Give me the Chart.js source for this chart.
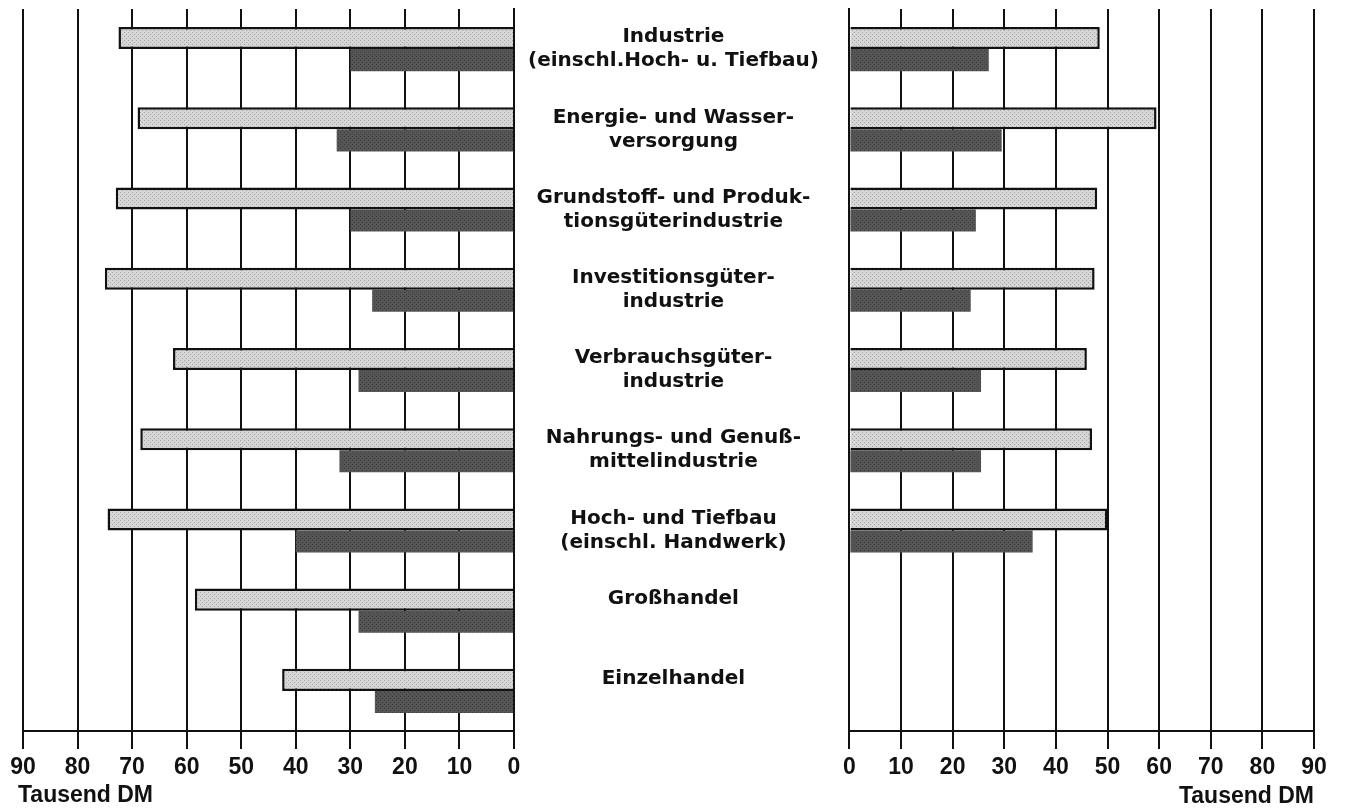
<!DOCTYPE html>
<html>
<head>
<meta charset="utf-8">
<script src="https://cdn.jsdelivr.net/npm/chart.js@4"></script>
<style>
  body { margin: 0; background: #fff; }
  canvas { position: absolute; top: 0; }
  #left { left: 0; }
  #right { left: 838px; }
</style>
</head>
<body>
<canvas id="left" width="838" height="810"></canvas>
<canvas id="right" width="529" height="810"></canvas>
<script>
const categories = [
  ['Industrie', '(einschl.Hoch- u. Tiefbau)'],
  ['Energie- und Wasser-', 'versorgung'],
  ['Grundstoff- und Produk-', 'tionsgüterindustrie'],
  ['Investitionsgüter-', 'industrie'],
  ['Verbrauchsgüter-', 'industrie'],
  ['Nahrungs- und Genuß-', 'mittelindustrie'],
  ['Hoch- und Tiefbau', '(einschl. Handwerk)'],
  ['Großhandel', ''],
  ['Einzelhandel', '']
]
const leftLight = [72.5, 69, 73, 75, 62.5, 68.5, 74.5, 58.5, 42.5]
const leftDark = [30, 32.5, 30, 26, 28.5, 32, 40, 28.5, 25.5]
const rightLight = [48.5, 59.5, 48, 47.5, 46, 47, 50, null, null]
const rightDark = [27, 29.5, 24.5, 23.5, 25.5, 25.5, 35.5, null, null]
const xTicks = [0, 10, 20, 30, 40, 50, 60, 70, 80, 90]
const axisTitle = 'Tausend DM'

const tickFont = { family: 'Liberation Sans', size: 23, weight: 'bold' }
const labelFont = { family: 'DejaVu Sans', size: 20, weight: 'bold', lineHeight: 1.2 }

// dotted raster like the printed light bars
function dots(base, dot) {
  const c = document.createElement('canvas')
  c.width = 4; c.height = 4
  const g = c.getContext('2d')
  g.fillStyle = base
  g.fillRect(0, 0, 4, 4)
  g.fillStyle = dot
  g.fillRect(0, 0, 1, 1)
  g.fillRect(2, 2, 1, 1)
  return g.createPattern(c, 'repeat')
}
const lightFill = dots('#d6d6d6', '#a5a5a5')
const darkFill = dots('#555555', '#3e3e3e')

function datasets(light, dark) {
  return [{
    data: light,
    backgroundColor: lightFill,
    borderColor: '#111',
    borderWidth: 2.5,
  }, {
    data: dark,
    backgroundColor: darkFill,
    borderWidth: 0,
  }]
}

function xScale(reverse, title) {
  return {
    min: 0,
    max: 90,
    reverse: reverse,
    afterBuildTicks: (s) => { s.ticks = xTicks.map(v => ({ value: v })) },
    afterFit: (s) => { s.height = 79 },
    grid: { color: '#111', lineWidth: 2, tickLength: 18 },
    border: { color: '#111', width: 2 },
    ticks: { color: '#111', font: tickFont, padding: 5, maxRotation: 0, autoSkip: false },
    title: { display: title, text: axisTitle, align: 'end', color: '#111', font: tickFont, padding: { top: 0, bottom: 0 } }
  }
}

// reversed axis flips the title alignment, so the left one is drawn by hand
const leftTitle = {
  id: 'leftTitle',
  afterDraw(chart) {
    const { ctx, scales: { x } } = chart
    ctx.save()
    ctx.font = 'bold 23px "Liberation Sans"'
    ctx.fillStyle = '#111'
    ctx.textAlign = 'left'
    ctx.textBaseline = 'middle'
    ctx.fillText(axisTitle, x.left - 5, x.bottom - 14)
    ctx.restore()
  }
}

const common = {
  indexAxis: 'y',
  responsive: false,
  animation: false,
  devicePixelRatio: 1,
  datasets: { bar: { categoryPercentage: 0.55, barPercentage: 1.0 } },
  plugins: { legend: { display: false }, tooltip: { enabled: false } },
}

new Chart(document.getElementById('left'), {
  type: 'bar',
  data: { labels: categories, datasets: datasets(leftLight, leftDark) },
  plugins: [leftTitle],
  options: {
    ...common,
    layout: { padding: { left: 23, top: 9, right: 0, bottom: 0 } },
    scales: {
      x: xScale(true, false),
      y: {
        position: 'right',
        afterFit: (s) => { s.width = 324; s.paddingTop = 0; s.paddingBottom = 0 },
        grid: { display: false, drawTicks: false },
        border: { color: '#111', width: 2 },
        ticks: { color: '#111', font: labelFont, padding: 14, crossAlign: 'center', autoSkip: false }
      }
    }
  }
})

new Chart(document.getElementById('right'), {
  type: 'bar',
  data: { labels: categories, datasets: datasets(rightLight, rightDark) },
  options: {
    ...common,
    layout: { padding: { left: 10, top: 9, right: 53, bottom: 0 } },
    scales: {
      x: xScale(false, true),
      y: {
        position: 'left',
        afterFit: (s) => { s.width = 0 },
        grid: { display: false, drawTicks: false },
        border: { color: '#111', width: 2 },
        ticks: { display: false }
      }
    }
  }
})
</script>
</body>
</html>
